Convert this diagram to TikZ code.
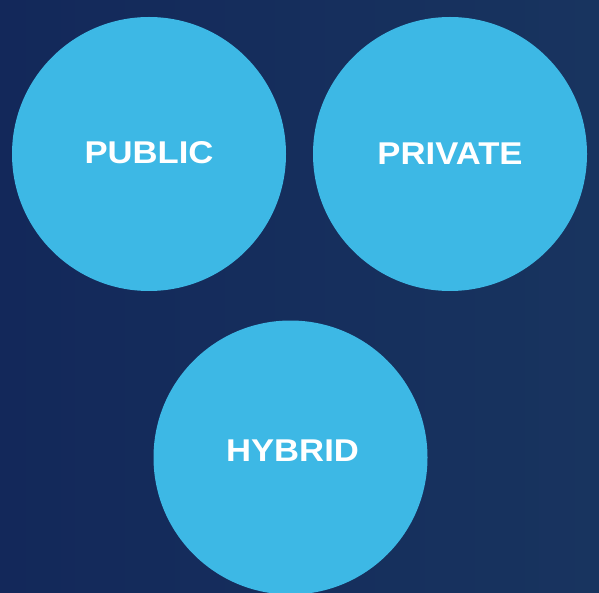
\documentclass[tikz,border=0pt]{standalone}
\usepackage{fontspec}
\setmainfont{Liberation Sans}
\newfontfamily\labelfont[FakeStretch=1.1]{Liberation Sans Bold}
\usepackage{xcolor}
\definecolor{navytop}{HTML}{13285A}
\definecolor{navybot}{HTML}{18345F}
\definecolor{cloudblue}{HTML}{3DB8E5}

\begin{document}
\begin{tikzpicture}[x=1pt, y=-1pt]
    \tikzset{cloud/.style={circle, fill=cloudblue, minimum size=274pt, inner sep=0pt}}
    \tikzset{cloudtext/.style={inner sep=0pt, text=white, font=\labelfont\fontsize{31.5}{36}\selectfont}}
    
    \shade[left color=navytop, right color=navybot] (0,0) rectangle (599,593);
    \useasboundingbox (0,0) rectangle (599,593);
    
    \node[cloud] (public) at (149,154) {};
    \node[cloud] (private) at (450,154) {};
    \node[cloud] (hybrid) at (290.5,457.5) {};
    
    \node[cloudtext] (publictext) at ([yshift=1.5pt]public.center) {PUBLIC};
    \node[cloudtext] (privatetext) at ([yshift=0.7pt]private.center) {PRIVATE};
    \node[cloudtext] (hybridtext) at ([xshift=2pt, yshift=6.5pt]hybrid.center) {HYBRID};
    \end{tikzpicture}
\end{document}
